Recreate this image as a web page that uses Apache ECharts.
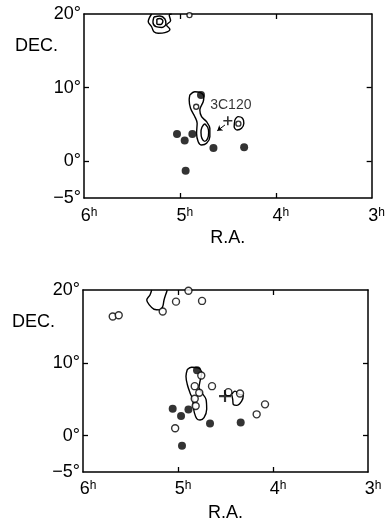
<!DOCTYPE html>
<html>
<head>
<meta charset="utf-8">
<script src="https://cdn.jsdelivr.net/npm/echarts@6/dist/echarts.min.js"></script>
<style>html,body{margin:0;padding:0;background:#fff}#c{width:388px;height:523px}</style>
</head>
<body>
<div id="c"></div>
<script>
// ---- axis ticks ----
const raLabelValues = [3, 4, 5, 6];
const raTickValues = [4, 5];
const decLabelValues = [-5, 0, 10, 20];
const decTickValues = [0, 10];

// ---- upper panel ----
const topFilled = [[5.03,3.7],[4.95,2.8],[4.87,3.7],[4.65,1.8],[4.33,1.9],[4.94,-1.3],[4.78,9.0]];
const topOpen = [[4.83,7.4],[4.39,5.1],[4.90,19.85]];
const topPlus = [[4.50,5.5]];
const topArrow = [[4.53,4.92],[4.61,4.14]];
const topContourMain = [[4.896,9.0],[4.844,9.44],[4.792,9.36],[4.75,8.76],[4.757,8.08],[4.792,6.96],[4.774,6.05],[4.722,5.37],[4.6875,4.47],[4.6875,3.33],[4.722,2.43],[4.774,2.2],[4.809,2.65],[4.826,3.79],[4.82,5.15],[4.844,6.05],[4.889,7.19],[4.903,8.32],[4.896,9.0]];
const topContourInner = [[4.74,5.1],[4.71,4.6],[4.70,3.9],[4.71,3.1],[4.74,2.7],[4.77,3.1],[4.78,3.9],[4.77,4.6],[4.74,5.1]];
const topContourEast = [[4.427,5.6],[4.393,6.05],[4.347,5.83],[4.333,5.15],[4.357,4.47],[4.403,4.24],[4.434,4.69],[4.427,5.6]];
const topContourNorthA = [[5.295,20.0],[5.33,18.95],[5.295,18.27],[5.271,17.6],[5.226,17.38],[5.156,17.46],[5.104,17.92],[5.139,18.5],[5.097,19.09],[5.111,19.86],[5.086,20.0]];
const topContourNorthB = [[5.271,19.59],[5.281,18.91],[5.25,18.27],[5.1875,18.17],[5.146,18.64],[5.156,19.32],[5.208,19.73],[5.271,19.59]];
const topContourNorthC = [[5.24,19.32],[5.24,18.64],[5.198,18.57],[5.177,19.05],[5.208,19.39],[5.24,19.32]];

// ---- lower panel ----
const botFilled = [[5.056,3.7],[4.968,2.69],[4.89,3.6],[4.80,8.98],[4.663,1.65],[4.34,1.79],[4.958,-1.4]];
const botOpen = [[5.687,16.35],[5.624,16.54],[5.161,17.04],[5.021,18.4],[4.747,18.5],[4.89,19.9],[4.755,8.25],[4.824,6.79],[4.776,5.88],[4.824,5.07],[4.814,4.06],[4.642,6.79],[4.47,5.97],[4.347,5.79],[4.172,2.92],[4.084,4.29],[5.03,1.01]];
const botPlus = [[4.505,5.43]];
const botContourMain = [[4.902,9.07],[4.856,9.39],[4.786,9.3],[4.751,8.62],[4.768,7.47],[4.779,6.57],[4.751,5.89],[4.705,4.97],[4.698,3.61],[4.726,2.47],[4.768,2.14],[4.803,2.34],[4.828,3.16],[4.839,4.06],[4.845,4.97],[4.874,5.89],[4.902,7.02],[4.916,8.16],[4.902,9.07]];
const botContourEast = [[4.435,5.66],[4.4,6.11],[4.355,5.66],[4.313,5.52],[4.33,4.74],[4.382,4.15],[4.418,4.29],[4.424,4.97],[4.435,5.66]];
const botContourNorth = [[5.277,20.0],[5.295,19.32],[5.329,18.63],[5.302,17.95],[5.253,17.36],[5.189,17.27],[5.161,17.72],[5.147,18.63],[5.119,19.77],[5.113,20.0]];

const FONT = 'Liberation Sans';
const chart = echarts.init(document.getElementById('c'), null, {renderer: 'canvas'});

function xAxes(gi, nameGap, margin) {
  return [{
    gridIndex: gi, type: 'value', min: 3, max: 6, inverse: true, position: 'bottom',
    name: 'R.A.', nameLocation: 'middle', nameGap: nameGap,
    nameTextStyle: {fontFamily: FONT, fontSize: 18, color: '#000'},
    axisLine: {show: true, onZero: false, lineStyle: {color: '#000', width: 1.5}},
    axisTick: {show: true, inside: true, length: 5, customValues: raTickValues, lineStyle: {color: '#000', width: 1.3}},
    axisLabel: {show: true, customValues: raLabelValues, margin: margin, padding: [0, 0, 0, 10],
      formatter: v => '{n|' + v + '}{s|h}',
      rich: {n: {fontFamily: FONT, fontSize: 18, color: '#000'}, s: {fontFamily: FONT, fontSize: 12, color: '#000', verticalAlign: 'top'}}},
    splitLine: {show: false}
  }, {
    gridIndex: gi, type: 'value', min: 3, max: 6, inverse: true, position: 'top',
    axisLine: {show: true, onZero: false, lineStyle: {color: '#000', width: 1.5}},
    axisTick: {show: true, inside: true, length: 5, customValues: raTickValues, lineStyle: {color: '#000', width: 1.3}},
    axisLabel: {show: false}, splitLine: {show: false}
  }];
}
function yAxes(gi) {
  return [{
    gridIndex: gi, type: 'value', min: -5, max: 20, interval: 5, position: 'left',
    axisLine: {show: true, onZero: false, lineStyle: {color: '#000', width: 1.5}},
    axisTick: {show: true, inside: true, length: 5, customValues: decTickValues, lineStyle: {color: '#000', width: 1.3}},
    axisLabel: {show: true, customValues: decLabelValues, margin: 3,
      fontFamily: FONT, fontSize: 18, color: '#000',
      formatter: v => (v < 0 ? '\u2212' + (-v) : String(v)) + '\u00b0'},
    splitLine: {show: false}
  }, {
    gridIndex: gi, type: 'value', min: -5, max: 20, interval: 5, position: 'right',
    axisLine: {show: true, onZero: false, lineStyle: {color: '#000', width: 1.5}},
    axisTick: {show: true, inside: true, length: 5, customValues: decTickValues, lineStyle: {color: '#000', width: 1.3}},
    axisLabel: {show: false}, splitLine: {show: false}
  }];
}

function contour(data, xi, yi) {
  return {type: 'line', xAxisIndex: xi, yAxisIndex: yi, data: data, symbol: 'none', smooth: 0.35,
    lineStyle: {color: '#000', width: 1.4}, silent: true, z: 2};
}
function filled(data, xi, yi) {
  return {type: 'scatter', xAxisIndex: xi, yAxisIndex: yi, data: data, symbol: 'circle', symbolSize: 8,
    itemStyle: {color: '#000'}, z: 4};
}
function open(data, xi, yi, size) {
  return {type: 'scatter', xAxisIndex: xi, yAxisIndex: yi, data: data, symbol: 'circle', symbolSize: size,
    itemStyle: {color: '#fff', borderColor: '#000', borderWidth: 1.4}, z: 5};
}
const plusPath = 'path://M0,4.1H10V5.9H0ZM4.1,0H5.9V10H4.1Z';

const option = {
  backgroundColor: '#fff',
  animation: false,
  grid: [
    {left: 84, top: 14, width: 288, height: 184},
    {left: 83, top: 290, width: 285, height: 183}
  ],
  xAxis: [...xAxes(0, 31, 9), ...xAxes(1, 32, 8)],
  yAxis: [...yAxes(0), ...yAxes(1)],
  graphic: [
    {type: 'text', left: 15, top: 37, style: {text: 'DEC.', fontFamily: FONT, fontSize: 18, fill: '#000'}},
    {type: 'text', left: 12, top: 313, style: {text: 'DEC.', fontFamily: FONT, fontSize: 18, fill: '#000'}}
  ],
  series: [
    contour(topContourMain, 0, 0),
    contour(topContourInner, 0, 0),
    contour(topContourEast, 0, 0),
    contour(topContourNorthA, 0, 0),
    contour(topContourNorthB, 0, 0),
    contour(topContourNorthC, 0, 0),
    filled(topFilled, 0, 0),
    open(topOpen, 0, 0, 5),
    {type: 'scatter', xAxisIndex: 0, yAxisIndex: 0, data: topPlus, symbol: plusPath, symbolSize: 9,
      itemStyle: {color: '#000'}, z: 6,
      label: {show: true, formatter: '3C120', position: 'top', distance: 4, offset: [3, 0],
        fontFamily: FONT, fontSize: 14, color: '#000'}},
    {type: 'lines', coordinateSystem: 'cartesian2d', xAxisIndex: 0, yAxisIndex: 0,
      data: [{coords: topArrow}], symbol: ['none', 'arrow'], symbolSize: 5,
      lineStyle: {color: '#000', width: 1, opacity: 1}, z: 6},

    contour(botContourMain, 2, 2),
    contour(botContourEast, 2, 2),
    contour(botContourNorth, 2, 2),
    filled(botFilled, 2, 2),
    open(botOpen, 2, 2, 7),
    {type: 'scatter', xAxisIndex: 2, yAxisIndex: 2, data: botPlus, symbol: plusPath, symbolSize: 12,
      itemStyle: {color: '#000'}, z: 6}
  ]
};
chart.setOption(option);
</script>
</body>
</html>
